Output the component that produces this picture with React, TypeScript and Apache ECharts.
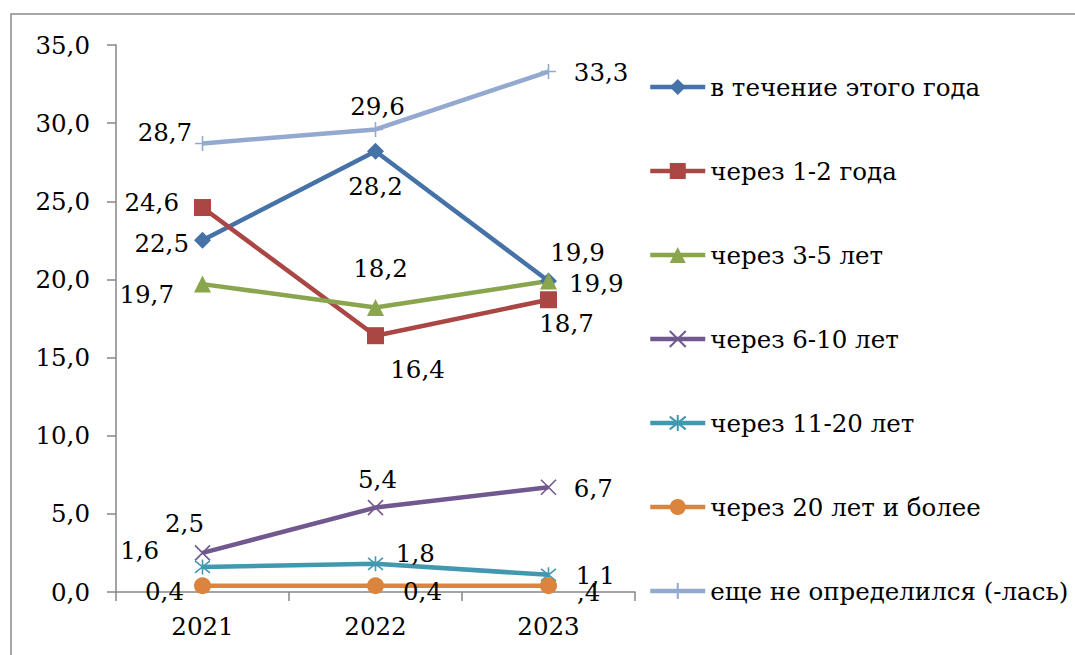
import React, { useEffect, useRef } from "react";
import * as echarts from "echarts";

const years = ["2021", "2022", "2023"];
const seriesNames = [
  "в течение этого года",
  "через 1-2 года",
  "через 3-5 лет",
  "через 6-10 лет",
  "через 11-20 лет",
  "через 20 лет и более",
  "еще не определился (-лась)",
];
const thisYear = [22.5, 28.2, 19.9];
const in1to2 = [24.6, 16.4, 18.7];
const in3to5 = [19.7, 18.2, 19.9];
const in6to10 = [2.5, 5.4, 6.7];
const in11to20 = [1.6, 1.8, 1.1];
const in20plus = [0.4, 0.4, 0.4];
const undecided = [28.7, 29.6, 33.3];
const yMin = 0;
const yMax = 35;
const yStep = 5;

const FONT = "DejaVu Serif";
const FS = 24.5;

const colors = ["#4572A7", "#AA4643", "#89A54E", "#71588F", "#4198AF", "#DB843D", "#93A9CF"];

const symX = "path://M0,0L10,10M10,0L0,10";
const symAst = "path://M5,0L5,10M1,1L9,9M9,1L1,9";
const symPlus = "path://M5,0L5,10M0,5L10,5";

type Place = [string, number, number];
const placements: Place[][] = [
  [["left", 0, 3], ["bottom", 0, 9], ["right", 7, 3]],
  [["left", -10, -5], ["bottom", 42, 8], ["bottom", 18, -2]],
  [["left", -15, 10], ["top", 5, -13], ["top", 29, -2]],
  [["top", -18, -4], ["top", 2, -2], ["right", 12, 1]],
  [["left", -30, -16], ["right", 7, -10], ["right", 14, 1]],
  [["left", -5, 6], ["right", 14, 6], ["right", 15, 7]],
  [["left", 3, -11], ["top", 2, 3], ["right", 12, 1]],
];
const labelOverrides: Record<string, string> = { "5-2": ",4" };

const fmt = (v: number) => v.toFixed(1).replace(".", ",");

export default function App() {
  const ref = useRef<HTMLDivElement>(null);
  useEffect(() => {
    document.body.style.margin = "0";
    const chart = echarts.init(ref.current!, undefined, { renderer: "svg" });
    const allData = [thisYear, in1to2, in3to5, in6to10, in11to20, in20plus, undecided];
    const symbols = ["diamond", "rect", "triangle", symX, symAst, "circle", symPlus];
    const sizes = [17, 17, 17, 15, 15, 17, 15];
    const series = allData.map((arr, si) => {
      const c = colors[si];
      const stroked = si === 3 || si === 4 || si === 6;
      return {
        name: seriesNames[si],
        type: "line",
        data: arr.map((v, i) => {
          const [pos, dx, dy] = placements[si][i];
          const ov = labelOverrides[`${si}-${i}`];
          return {
            value: v,
            label: {
              position: pos,
              offset: [dx, dy],
              ...(ov ? { formatter: ov } : {}),
            },
          };
        }),
        symbol: symbols[si],
        symbolSize: sizes[si],
        showAllSymbol: true,
        lineStyle: { color: c, width: 4.5 },
        itemStyle: stroked
          ? { color: c, borderColor: c, borderWidth: 1.6 }
          : { color: c, borderWidth: 0 },
        label: {
          show: true,
          distance: 5,
          color: "#000",
          fontFamily: FONT,
          fontSize: FS,
          formatter: (p: any) => fmt(p.value),
        },
        emphasis: { disabled: true },
      };
    });
    chart.setOption({
      animation: false,
      graphic: [
        {
          type: "rect",
          shape: { x: 11, y: 14, width: 1200, height: 800 },
          style: { fill: "none", stroke: "#8a8a8a", lineWidth: 1.5 },
          silent: true,
        },
      ],
      grid: { left: 116, right: 440, top: 45, bottom: 63 },
      legend: {
        orient: "vertical",
        left: 648,
        top: 72,
        padding: 0,
        itemWidth: 55,
        itemHeight: 20,
        itemGap: 54,
        data: seriesNames,
        lineStyle: { width: 4.5 },
        textStyle: { fontFamily: FONT, fontSize: FS, color: "#000", lineHeight: 30 },
      },
      xAxis: {
        type: "category",
        data: years,
        boundaryGap: true,
        axisLine: { lineStyle: { color: "#868686", width: 1.5 } },
        axisTick: { show: true, length: 9, lineStyle: { color: "#868686", width: 1.5 } },
        axisLabel: { color: "#000", fontFamily: FONT, fontSize: FS, margin: 22 },
        splitLine: { show: false },
      },
      yAxis: {
        type: "value",
        min: yMin,
        max: yMax,
        interval: yStep,
        axisLine: { show: true, lineStyle: { color: "#868686", width: 1.5 } },
        axisTick: { show: true, length: 9, lineStyle: { color: "#868686", width: 1.5 } },
        axisLabel: {
          color: "#000",
          fontFamily: FONT,
          fontSize: FS,
          margin: 26,
          formatter: (v: number) => fmt(v),
        },
        splitLine: { show: false },
      },
      series,
    });
    return () => chart.dispose();
  }, []);
  return <div ref={ref} style={{ width: 1075, height: 655 }} />;
}
